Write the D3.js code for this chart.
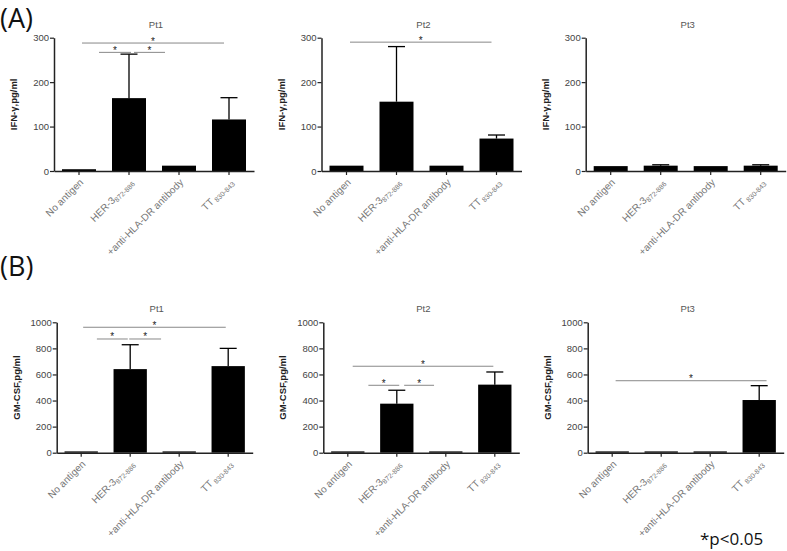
<!DOCTYPE html>
<html><head><meta charset="utf-8">
<script src="https://cdn.jsdelivr.net/npm/d3@7"></script>
<style>
html,body{margin:0;padding:0;background:#fff;}
svg{display:block;}
text{-webkit-font-smoothing:antialiased;}
</style></head>
<body>
<svg id="chart" width="787" height="551"></svg>
<script>
// ---------- data ----------
const categories = ["No antigen", "HER-3", "+anti-HLA-DR antibody", "TT"];
const categorySubs = ["", "872-886", "", " 830-843"];
const patients = ["Pt1", "Pt2", "Pt3"];

const ifnTicks = [0, 100, 200, 300];
const ifnMean = {Pt1: [4, 164, 12, 116], Pt2: [12, 156, 12, 73], Pt3: [11, 12, 11, 12]};
const ifnErr  = {Pt1: [null, 263, null, 165], Pt2: [null, 280, null, 81], Pt3: [null, 14, null, 14]};
// significance bars: [fromIndex, toIndex, value]
const ifnSig = {
  Pt1: [[0.06, 2.9, 288], [0.4, 1.04, 267], [1.1, 1.72, 267]],
  Pt2: [[0.07, 2.9, 290]],
  Pt3: []
};

const gmTicks = [0, 200, 400, 600, 800, 1000];
const gmMean = {Pt1: [10, 641, 10, 664], Pt2: [10, 376, 10, 522], Pt3: [10, 10, 10, 404]};
const gmErr  = {Pt1: [null, 828, null, 800], Pt2: [null, 479, null, 619], Pt3: [null, null, null, 514]};
const gmSig = {
  Pt1: [[0.04, 2.95, 962], [0.32, 0.95, 872], [0.98, 1.63, 872]],
  Pt2: [[0.1, 2.97, 663], [0.42, 1.05, 517], [1.15, 1.76, 517]],
  Pt3: [[0.07, 3.15, 552]]
};

// ---------- layout ----------
const svg = d3.select("#chart");
const rows = [
  {label: "(A)", labelY: 28, yLabel: "IFN-\u03b3,pg/ml", max: 300, ticks: ifnTicks, mean: ifnMean, err: ifnErr, sig: ifnSig,
   top: 37.7, bottom: 171, width: 200, axisX: [54, 321.5, 585.7]},
  {label: "(B)", labelY: 276, yLabel: "GM-CSF,pg/ml", max: 1000, ticks: gmTicks, mean: gmMean, err: gmErr, sig: gmSig,
   top: 322.3, bottom: 452.7, width: 196, axisX: [56.7, 323.3, 587.7]}
];

const axisColor = "#222";
const font = "'Liberation Sans', Arial, sans-serif";

rows.forEach(row => {
  svg.append("text").attr("x", 0).attr("y", row.labelY)
    .attr("font-family", "'Open Sans', sans-serif").attr("font-size", 27).attr("fill", "#111")
    .text(row.label);

  patients.forEach((pt, pi) => {
    const ax = row.axisX[pi];
    const g = svg.append("g").attr("transform", `translate(${ax},0)`);
    const x = d3.scaleBand().domain(d3.range(categories.length)).range([0, row.width])
      .paddingInner(0.32).paddingOuter(0.16);
    const y = d3.scaleLinear().domain([0, row.max]).range([row.bottom, row.top]);
    const step = x.step();
    const cx = i => x(0) + x.bandwidth() / 2 + i * step;

    // bars
    g.selectAll("rect.bar").data(row.mean[pt]).join("rect")
      .attr("x", (d, i) => x(i)).attr("width", x.bandwidth())
      .attr("y", d => y(d)).attr("height", d => y(0) - y(d))
      .attr("fill", "#000");

    // error bars
    row.err[pt].forEach((e, i) => {
      if (e == null) return;
      const m = row.mean[pt][i];
      g.append("line").attr("x1", cx(i)).attr("x2", cx(i)).attr("y1", y(m)).attr("y2", y(e))
        .attr("stroke", "#000").attr("stroke-width", 1.3);
      g.append("line").attr("x1", cx(i) - 8.5).attr("x2", cx(i) + 8.5).attr("y1", y(e)).attr("y2", y(e))
        .attr("stroke", "#000").attr("stroke-width", 1.3);
    });

    // y axis
    const yAxis = g.append("g").call(d3.axisLeft(y).tickValues(row.ticks).tickFormat(d3.format("d"))
      .tickSize(4).tickPadding(1).tickSizeOuter(0));
    yAxis.select(".domain").attr("stroke", axisColor).attr("stroke-width", 1.5);
    yAxis.selectAll(".tick line").attr("stroke", axisColor).attr("stroke-width", 1.2);
    yAxis.selectAll(".tick text").attr("font-family", font).attr("font-size", 9.5).attr("fill", "#444");

    // x axis
    const xAxis = g.append("g").attr("transform", `translate(0,${row.bottom})`)
      .call(d3.axisBottom(x).tickSize(4).tickSizeOuter(0).tickFormat(""));
    xAxis.select(".domain").attr("stroke", axisColor).attr("stroke-width", 1.5);
    xAxis.selectAll(".tick line").attr("stroke", axisColor).attr("stroke-width", 1.2);

    // category labels
    categories.forEach((c, i) => {
      const t = g.append("text")
        .attr("transform", `translate(${cx(i) + 5},${row.bottom + 12}) rotate(-45)`)
        .attr("text-anchor", "end").attr("font-family", font).attr("font-size", 10).attr("fill", "#777");
      t.append("tspan").text(c);
      if (categorySubs[i]) t.append("tspan").attr("font-size", 7).attr("dy", 2).text(categorySubs[i]);
    });

    // title
    g.append("text").attr("x", row.width / 2 + 2).attr("y", row.top - 10)
      .attr("text-anchor", "middle").attr("font-family", font).attr("font-size", 9.5).attr("fill", "#555")
      .text(pt);

    // y label
    g.append("text").attr("transform", `translate(-37,${(row.top + row.bottom) / 2}) rotate(-90)`)
      .attr("text-anchor", "middle").attr("font-family", font).attr("font-size", 9.5)
      .attr("font-weight", "bold").attr("fill", "#222").text(row.yLabel);

    // significance bars
    row.sig[pt].forEach(s => {
      const x1 = cx(0) + s[0] * step, x2 = cx(0) + s[1] * step, yy = y(s[2]);
      g.append("line").attr("x1", x1).attr("x2", x2).attr("y1", yy).attr("y2", yy)
        .attr("stroke", "#888").attr("stroke-width", 1);
      g.append("text").attr("x", (x1 + x2) / 2).attr("y", yy + 1.5)
        .attr("text-anchor", "middle").attr("font-family", font).attr("font-size", 10).attr("fill", "#222")
        .text("*");
    });
  });
});

svg.append("text").attr("x", 700).attr("y", 545)
  .attr("font-family", "'Open Sans', sans-serif").attr("font-size", 17).attr("fill", "#111")
  .text("*p<0.05");
</script>
</body></html>
